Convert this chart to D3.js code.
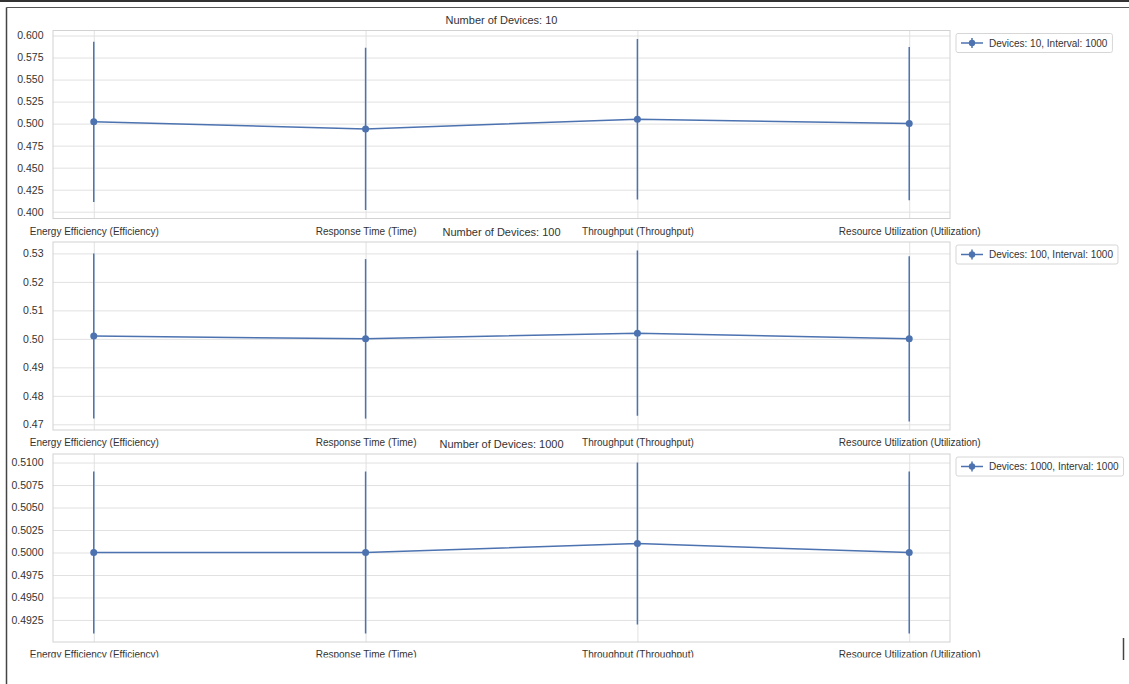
<!DOCTYPE html>
<html>
<head>
<meta charset="utf-8">
<script src="https://cdn.jsdelivr.net/npm/d3@7"></script>
<style>
  body { margin: 0; background: #fff; }
  svg { display: block; font-family: "Liberation Sans", Arial, Helvetica, sans-serif; }
</style>
</head>
<body>
<svg id="chart" width="1129" height="684"></svg>
<script>
// Metric categories shown on every panel's x axis
const metrics = [
  "Energy Efficiency (Efficiency)",
  "Response Time (Time)",
  "Throughput (Throughput)",
  "Resource Utilization (Utilization)"
];
const deviceCounts = [10, 100, 1000];
const interval = 1000;

// Mean score and error (half-width) per metric, one pair of arrays per device count
const means10 = [0.502, 0.494, 0.505, 0.500];
const errors10 = [0.091, 0.092, 0.091, 0.087];
const means100 = [0.501, 0.500, 0.502, 0.500];
const errors100 = [0.029, 0.028, 0.029, 0.029];
const means1000 = [0.5000, 0.5000, 0.5010, 0.5000];
const errors1000 = [0.009, 0.009, 0.009, 0.009];

// Y tick values and decimals per panel
const ticks10 = [0.400, 0.425, 0.450, 0.475, 0.500, 0.525, 0.550, 0.575, 0.600];
const ticks100 = [0.47, 0.48, 0.49, 0.50, 0.51, 0.52, 0.53];
const ticks1000 = [0.4925, 0.4950, 0.4975, 0.5000, 0.5025, 0.5050, 0.5075, 0.5100];
const tickDigits = [3, 2, 4];

const panels = [
  { devices: deviceCounts[0], means: means10, errors: errors10, ticks: ticks10, digits: tickDigits[0] },
  { devices: deviceCounts[1], means: means100, errors: errors100, ticks: ticks100, digits: tickDigits[1] },
  { devices: deviceCounts[2], means: means1000, errors: errors1000, ticks: ticks1000, digits: tickDigits[2] }
];

const W = 1129, H = 684;
const plotLeft = 53, plotRight = 950, plotHeight = 188;
const plotTops = [30.5, 242, 454];
const lineColor = "#4c72b0";
const gridColor = "#e1e1e1";
const frameColor = "#d2d2d2";
const textColor = "#333";

const svg = d3.select("#chart");

// Outer frame of the figure window
svg.append("rect").attr("width", W).attr("height", H).attr("fill", "#fff");
svg.append("line").attr("x1", 0).attr("x2", W).attr("y1", 1).attr("y2", 1)
  .attr("stroke", "#333").attr("stroke-width", 2);
svg.append("line").attr("x1", 6.5).attr("x2", W).attr("y1", 7.5).attr("y2", 7.5)
  .attr("stroke", "#555").attr("stroke-width", 1.2);
svg.append("line").attr("x1", 6.5).attr("x2", 6.5).attr("y1", 7.5).attr("y2", H)
  .attr("stroke", "#444").attr("stroke-width", 1.5);
svg.append("line").attr("x1", 1123.5).attr("x2", 1123.5).attr("y1", 638).attr("y2", 660)
  .attr("stroke", "#444").attr("stroke-width", 1.5);

// Figure contents are cut off at the bottom edge of the canvas
svg.append("clipPath").attr("id", "figClip")
  .append("rect").attr("x", 7).attr("y", 8).attr("width", W - 7).attr("height", 657.5 - 8);
const fig = svg.append("g").attr("clip-path", "url(#figClip)");

const x = d3.scalePoint().domain(d3.range(metrics.length)).range([plotLeft, plotRight]).padding(0.15);

panels.forEach((p, pi) => {
  const top = plotTops[pi];
  const bottom = top + plotHeight;
  const lo = d3.min(p.means, (m, i) => m - p.errors[i]);
  const hi = d3.max(p.means, (m, i) => m + p.errors[i]);
  const pad = (hi - lo) * 0.05;
  const y = d3.scaleLinear().domain([lo - pad, hi + pad]).range([bottom, top]);

  const g = fig.append("g");

  // Horizontal grid + y tick labels
  const yAxis = g.append("g").attr("transform", `translate(${plotLeft},0)`)
    .call(d3.axisLeft(y).tickValues(p.ticks).tickSize(-(plotRight - plotLeft))
      .tickPadding(9.5).tickFormat(d3.format(`.${p.digits}f`)));
  yAxis.select(".domain").remove();
  yAxis.selectAll(".tick line").attr("stroke", gridColor).attr("stroke-width", 1);
  yAxis.selectAll(".tick text").attr("fill", textColor).attr("font-size", 10.5)
    .attr("font-family", "Liberation Sans, Arial, sans-serif");

  // Vertical grid + category labels
  const xAxis = g.append("g").attr("transform", `translate(0,${bottom})`)
    .call(d3.axisBottom(x).tickSize(-plotHeight).tickPadding(9).tickFormat(i => metrics[i]));
  xAxis.select(".domain").remove();
  xAxis.selectAll(".tick line").attr("stroke", gridColor).attr("stroke-width", 1);
  xAxis.selectAll(".tick text").attr("fill", textColor).attr("font-size", 10)
    .attr("font-family", "Liberation Sans, Arial, sans-serif");

  // Plot frame
  g.append("rect").attr("x", plotLeft).attr("y", top)
    .attr("width", plotRight - plotLeft).attr("height", plotHeight)
    .attr("fill", "none").attr("stroke", frameColor).attr("stroke-width", 1);

  // Error bars
  g.selectAll(".err").data(p.means).join("line").attr("class", "err")
    .attr("x1", (d, i) => x(i)).attr("x2", (d, i) => x(i))
    .attr("y1", (d, i) => y(d - p.errors[i])).attr("y2", (d, i) => y(d + p.errors[i]))
    .attr("stroke", lineColor).attr("stroke-width", 1.5);

  // Mean line and markers
  g.append("path").datum(p.means)
    .attr("d", d3.line().x((d, i) => x(i)).y(d => y(d)))
    .attr("fill", "none").attr("stroke", lineColor).attr("stroke-width", 1.5);
  g.selectAll(".pt").data(p.means).join("circle").attr("class", "pt")
    .attr("cx", (d, i) => x(i)).attr("cy", d => y(d)).attr("r", 3.5).attr("fill", lineColor);

  // Panel title
  g.append("text").attr("x", (plotLeft + plotRight) / 2).attr("y", top - 6.5)
    .attr("text-anchor", "middle").attr("font-size", 11).attr("fill", textColor)
    .text(`Number of Devices: ${p.devices}`);

  // Legend outside the plot, upper left
  const lg = g.append("g").attr("transform", `translate(${plotRight + 6},${top + 3})`);
  const box = lg.append("rect").attr("height", 19).attr("rx", 2)
    .attr("fill", "#fff").attr("stroke", "#d6d6d6").attr("stroke-width", 1);
  lg.append("line").attr("x1", 5).attr("x2", 27).attr("y1", 9.5).attr("y2", 9.5)
    .attr("stroke", lineColor).attr("stroke-width", 1.5);
  lg.append("line").attr("x1", 16).attr("x2", 16).attr("y1", 4.5).attr("y2", 14.5)
    .attr("stroke", lineColor).attr("stroke-width", 1.5);
  lg.append("circle").attr("cx", 16).attr("cy", 9.5).attr("r", 3.2).attr("fill", lineColor);
  const lt = lg.append("text").attr("x", 33).attr("y", 9.5).attr("dy", "0.35em")
    .attr("font-size", 10).attr("fill", textColor)
    .text(`Devices: ${p.devices}, Interval: ${interval}`);
  box.attr("width", 33 + lt.node().getComputedTextLength() + 5);
});
</script>
</body>
</html>
